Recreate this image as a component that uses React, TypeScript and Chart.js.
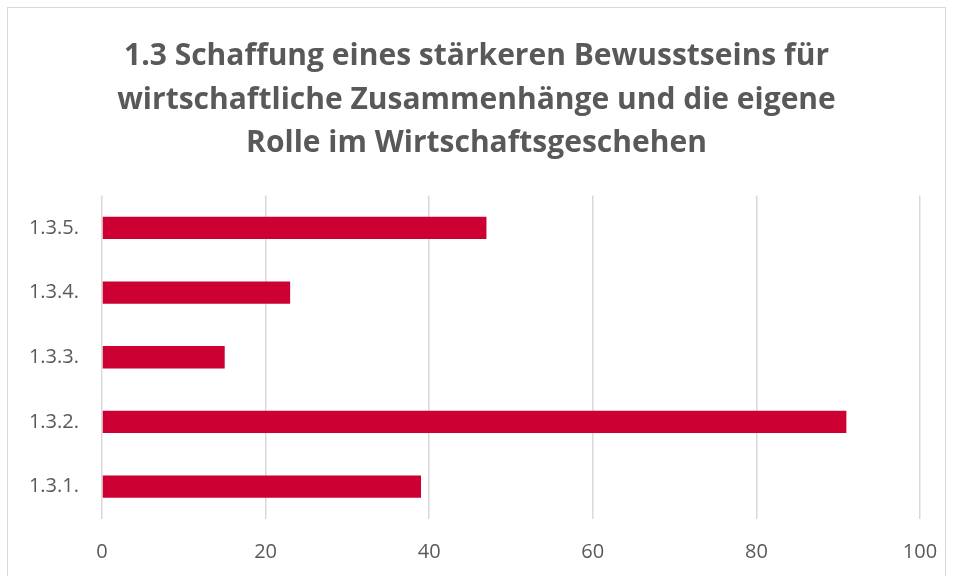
import React, { useEffect, useRef } from "react";
import { Chart, registerables } from "chart.js";

Chart.register(...registerables);

const categories = ["1.3.5.", "1.3.4.", "1.3.3.", "1.3.2.", "1.3.1."];
const values = [47, 23, 15, 91, 39];
const titleLines = [
  "1.3 Schaffung eines stärkeren Bewusstseins für",
  "wirtschaftliche Zusammenhänge und die eigene",
  "Rolle im Wirtschaftsgeschehen",
];
const xMin = 0;
const xMax = 100;
const xStep = 20;

export default function App() {
  const ref = useRef<HTMLCanvasElement | null>(null);

  useEffect(() => {
    if (!ref.current) return;
    const chart = new Chart(ref.current, {
      type: "bar",
      data: {
        labels: categories,
        datasets: [
          {
            data: values,
            backgroundColor: "#CC0033",
            borderWidth: 0,
            categoryPercentage: 1,
            barPercentage: 0.344,
          },
        ],
      },
      options: {
        indexAxis: "y",
        animation: false,
        responsive: false,
        maintainAspectRatio: false,
        layout: { padding: { left: 0, right: 0, top: 0, bottom: 16 } },
        plugins: {
          legend: { display: false },
          tooltip: { enabled: false },
          title: {
            display: true,
            text: titleLines,
            color: "#595959",
            font: { family: "'Open Sans', sans-serif", size: 30, weight: "bold", lineHeight: "43.5px" },
            padding: { top: 27, bottom: 30 },
          },
        },
        scales: {
          x: {
            min: xMin,
            max: xMax,
            ticks: {
              stepSize: xStep,
              color: "#595959",
              padding: 21,
              font: { family: "'Open Sans', sans-serif", size: 20, lineHeight: 1.2 },
            },
            grid: { color: "#d9d9d9", lineWidth: 1.5, drawTicks: false },
            border: { display: false },
            afterFit: (scale: any) => {
              scale.paddingRight = 25;
              scale.paddingLeft = 0;
            },
          },
          y: {
            ticks: {
              color: "#595959",
              padding: 23,
              font: { family: "'Open Sans', sans-serif", size: 20 },
            },
            grid: { display: false, drawTicks: false },
            border: { display: false },
            afterFit: (scale: any) => {
              scale.width = 94;
            },
          },
        },
      },
    });
    return () => chart.destroy();
  }, []);

  return (
    <div
      style={{
        position: "absolute",
        left: 7,
        top: 7,
        border: "1px solid #d9d9d9",
        width: 937,
        height: 600,
        background: "#fff",
      }}
    >
      <canvas ref={ref} width={937} height={593} style={{ display: "block" }} />
    </div>
  );
}
